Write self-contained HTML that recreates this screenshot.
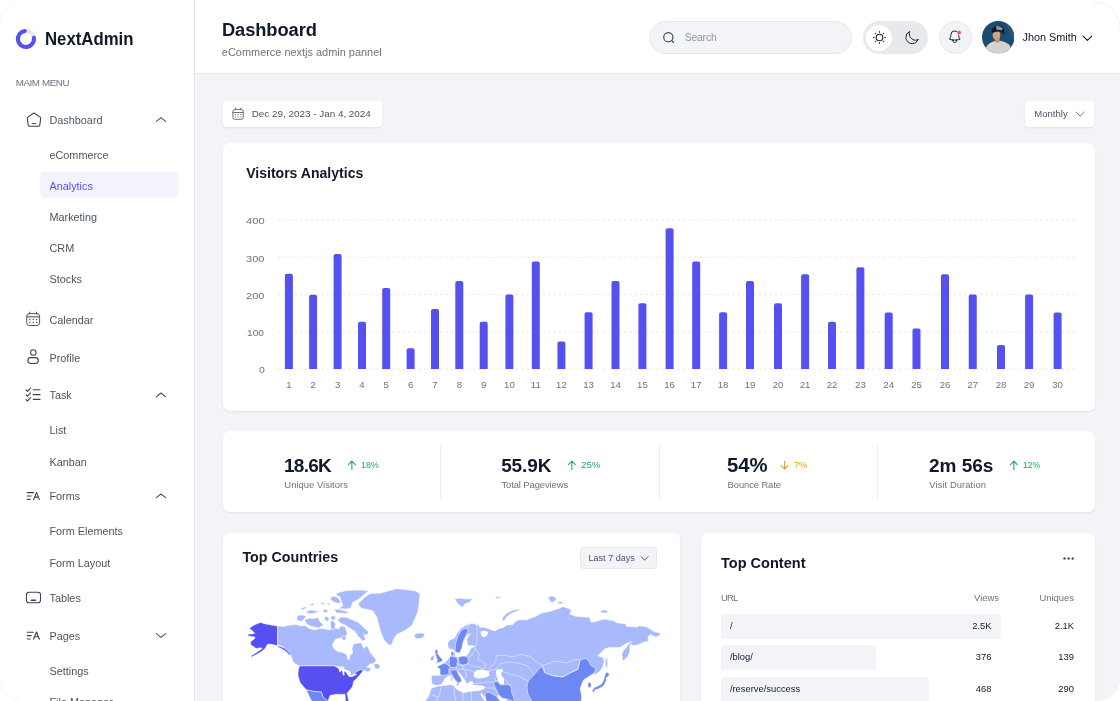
<!DOCTYPE html>
<html><head><meta charset="utf-8"><title>Analytics | NextAdmin</title>
<style>
html,body{margin:0;padding:0;}
body{width:1120px;height:701px;overflow:hidden;position:relative;background:#F3F4F8;font-family:"Liberation Sans",Arial,sans-serif;}
.t{position:absolute;white-space:nowrap;line-height:1;}
</style></head><body>
<div style="position:absolute;left:0px;top:0px;width:194px;height:701px;background:#fff;border-radius:0px;"></div>
<div style="position:absolute;left:194px;top:0px;width:1px;height:701px;background:#E5E7EB;border-radius:0px;"></div>
<div style="position:absolute;left:195px;top:0px;width:925px;height:73px;background:#fff;border-radius:0px;"></div>
<div style="position:absolute;left:195px;top:73px;width:925px;height:1px;background:#E7E8EC;border-radius:0px;"></div>
<svg style="position:absolute;left:0;top:0" width="60" height="60" viewBox="0 0 60 60">
<circle cx="25.95" cy="38.95" r="8.05" fill="none" stroke="#E5E7EB" stroke-width="4.1"/>
<path d="M 33.93 37.90 A 8.05 8.05 0 1 1 24.76 30.99" fill="none" stroke="#5750F1" stroke-width="4.1" stroke-linecap="round"/></svg>
<div class="t" style="left:45.47px;top:31.03px;font-size:17.8px;font-weight:700;color:#111928;transform:scaleX(0.9430);transform-origin:0 0;">NextAdmin</div>
<div class="t" style="left:15.71px;top:77.70px;font-size:9.8px;font-weight:400;color:#6B7280;letter-spacing:-0.420px;">MAIM MENU</div>
<div style="position:absolute;left:40px;top:172.4px;width:137.6px;height:26.1px;background:#F3F3FE;border-radius:4.5px;"></div>
<div class="t" style="left:49.47px;top:114.62px;font-size:10.85px;font-weight:400;color:#4B5563;">Dashboard</div>
<div class="t" style="left:49.47px;top:150.22px;font-size:10.85px;font-weight:400;color:#4B5563;">eCommerce</div>
<div class="t" style="left:49.47px;top:181.12px;font-size:10.85px;font-weight:400;color:#5750F1;">Analytics</div>
<div class="t" style="left:49.47px;top:212.32px;font-size:10.85px;font-weight:400;color:#4B5563;">Marketing</div>
<div class="t" style="left:49.47px;top:243.22px;font-size:10.85px;font-weight:400;color:#4B5563;">CRM</div>
<div class="t" style="left:49.47px;top:274.22px;font-size:10.85px;font-weight:400;color:#4B5563;">Stocks</div>
<div class="t" style="left:49.47px;top:314.52px;font-size:10.85px;font-weight:400;color:#4B5563;">Calendar</div>
<div class="t" style="left:49.47px;top:352.52px;font-size:10.85px;font-weight:400;color:#4B5563;">Profile</div>
<div class="t" style="left:49.47px;top:390.32px;font-size:10.85px;font-weight:400;color:#4B5563;">Task</div>
<div class="t" style="left:49.47px;top:425.02px;font-size:10.85px;font-weight:400;color:#4B5563;">List</div>
<div class="t" style="left:49.47px;top:456.72px;font-size:10.85px;font-weight:400;color:#4B5563;">Kanban</div>
<div class="t" style="left:49.47px;top:491.02px;font-size:10.85px;font-weight:400;color:#4B5563;">Forms</div>
<div class="t" style="left:49.47px;top:526.42px;font-size:10.85px;font-weight:400;color:#4B5563;">Form Elements</div>
<div class="t" style="left:49.47px;top:557.62px;font-size:10.85px;font-weight:400;color:#4B5563;">Form Layout</div>
<div class="t" style="left:49.47px;top:593.02px;font-size:10.85px;font-weight:400;color:#4B5563;">Tables</div>
<div class="t" style="left:49.47px;top:630.92px;font-size:10.85px;font-weight:400;color:#4B5563;">Pages</div>
<div class="t" style="left:49.47px;top:665.92px;font-size:10.85px;font-weight:400;color:#4B5563;">Settings</div>
<div class="t" style="left:49.47px;top:697.02px;font-size:10.85px;font-weight:400;color:#4B5563;">File Manager</div>
<svg style="position:absolute;left:25.8px;top:111.9px" width="16" height="16" viewBox="0 0 24 24" fill="none" stroke="#3A4250" stroke-width="1.6" stroke-linecap="round" stroke-linejoin="round"><path d="M10.6 2.2 L2.9 7.7 C2.2 8.2 1.9 9 2 9.8 L3.3 19.6 C3.5 20.6 4.3 21.3 5.3 21.3 L18.7 21.3 C19.7 21.3 20.5 20.6 20.7 19.6 L22 9.8 C22.1 9 21.8 8.2 21.1 7.7 L13.4 2.2 C12.6 1.6 11.4 1.6 10.6 2.2 Z"/><path d="M9.4 17.45 H14.6" stroke-width="1.45"/></svg>
<svg style="position:absolute;left:0;top:0;overflow:visible" width="1" height="1"><g fill="none" stroke="#4B5563" stroke-width="1"><rect x="26.7" y="313.6" width="12.9" height="11.9" rx="2.8"/><path d="M26.7 316.8 H39.6" stroke-width="1.1"/><path d="M29.7 312.1 V314 M36.6 312.1 V314" stroke-linecap="round"/></g><circle cx="29.8" cy="319.6" r="0.75" fill="#4B5563"/><circle cx="33.3" cy="319.6" r="0.75" fill="#4B5563"/><circle cx="36.6" cy="319.6" r="0.75" fill="#4B5563"/><circle cx="29.8" cy="322.5" r="0.75" fill="#4B5563"/><circle cx="33.3" cy="322.5" r="0.75" fill="#4B5563"/><circle cx="36.6" cy="322.5" r="0.75" fill="#4B5563"/></svg>
<svg style="position:absolute;left:0;top:0;overflow:visible" width="1" height="1"><g fill="none" stroke="#3A4250" stroke-width="1.05"><circle cx="33.3" cy="352.4" r="2.75"/><rect x="27.85" y="357.6" width="10.5" height="5.9" rx="2.95"/></g></svg>
<svg style="position:absolute;left:0;top:0;overflow:visible" width="1" height="1"><g fill="none" stroke="#3A4250" stroke-width="1.1" stroke-linecap="round" stroke-linejoin="round"><path d="M26.1 390.0 L27.5 391.4 L30.6 388.1 M26.1 394.8 L27.5 396.2 L30.6 392.9 M26.1 399.6 L27.5 401.0 L30.6 397.7 "/><path d="M33.3 389.8 H40 M33.3 394.6 H40 M33.3 399.4 H40"/></g></svg>
<svg style="position:absolute;left:0;top:0;overflow:visible" width="1" height="1"><g fill="none" stroke="#3A4250" stroke-width="1.1" stroke-linecap="round" stroke-linejoin="round"><path d="M27.3 492.6 H33.4 M27.3 496.0 H31.2 M27.3 499.4 H30.1"/><path d="M33.6 499.6 L36.5 492.4 L39.4 499.6 M34.7 497.1 H38.3"/></g></svg>
<svg style="position:absolute;left:0;top:0;overflow:visible" width="1" height="1"><g fill="none" stroke="#3A4250" stroke-width="1.1" stroke-linecap="round" stroke-linejoin="round"><path d="M27.3 632.2 H33.4 M27.3 635.6 H31.2 M27.3 639.0 H30.1"/><path d="M33.6 639.2 L36.5 632.0 L39.4 639.2 M34.7 636.7 H38.3"/></g></svg>
<svg style="position:absolute;left:0;top:0;overflow:visible" width="1" height="1"><g fill="none" stroke="#3A4250" stroke-width="1.05" stroke-linecap="round"><rect x="26.5" y="592.2" width="14" height="10.6" rx="2.6"/><path d="M31.3 600.2 H35.5" stroke-width="1.4"/></g></svg>
<svg style="position:absolute;left:0;top:0;overflow:visible" width="1" height="1"><path d="M156.35 121.35 L161.00 117.65 L165.65 121.35" fill="none" stroke="#4B5563" stroke-width="1.1" stroke-linecap="round" stroke-linejoin="round"/></svg>
<svg style="position:absolute;left:0;top:0;overflow:visible" width="1" height="1"><path d="M156.35 396.75 L161.00 393.05 L165.65 396.75" fill="none" stroke="#4B5563" stroke-width="1.1" stroke-linecap="round" stroke-linejoin="round"/></svg>
<svg style="position:absolute;left:0;top:0;overflow:visible" width="1" height="1"><path d="M156.35 497.65 L161.00 493.95 L165.65 497.65" fill="none" stroke="#4B5563" stroke-width="1.1" stroke-linecap="round" stroke-linejoin="round"/></svg>
<svg style="position:absolute;left:0;top:0;overflow:visible" width="1" height="1"><path d="M156.35 633.65 L161.00 637.35 L165.65 633.65" fill="none" stroke="#4B5563" stroke-width="1.1" stroke-linecap="round" stroke-linejoin="round"/></svg>
<div class="t" style="left:221.95px;top:20.71px;font-size:18.3px;font-weight:700;color:#111928;letter-spacing:-0.072px;">Dashboard</div>
<div class="t" style="left:221.87px;top:47.33px;font-size:10.95px;font-weight:400;color:#6B7280;letter-spacing:-0.002px;">eCommerce nextjs admin pannel</div>
<div style="position:absolute;left:649px;top:21px;width:203px;height:33px;background:#F3F4F8;border-radius:16.5px;box-sizing:border-box;border:1px solid #E5E7EB;"></div>
<svg style="position:absolute;left:0;top:0;overflow:visible" width="1" height="1"><circle cx="668.3" cy="37.2" r="4.6" fill="none" stroke="#374151" stroke-width="1.1"/><path d="M671.8 40.7 L673.6 42.5" stroke="#374151" stroke-width="1.1" stroke-linecap="round"/></svg>
<div class="t" style="left:684.69px;top:33.20px;font-size:10.4px;font-weight:400;color:#8F96A3;letter-spacing:-0.190px;">Search</div>
<div style="position:absolute;left:863px;top:21px;width:65px;height:33px;background:#E8E9ED;border-radius:16.5px;"></div>
<div style="position:absolute;left:866px;top:24.5px;width:26px;height:26px;background:#fff;border-radius:13px;"></div>
<svg style="position:absolute;left:870.7px;top:29.1px" width="17" height="17" viewBox="0 0 24 24" fill="none" stroke="#111928" stroke-width="1.45" stroke-linecap="round" stroke-linejoin="round"><path d="M12 3.5v1M18 6l-.7.7M20.5 12h-1M18 18l-.7-.7M12 20.5v-1M6 18l.7-.7M3.5 12h1M6 6l.7.7"/><circle cx="12" cy="12" r="4.7"/></svg>
<svg style="position:absolute;left:903.6px;top:30.1px" width="15.5" height="15.5" viewBox="0 0 24 24" fill="none" stroke="#111928" stroke-width="1.5" stroke-linecap="round" stroke-linejoin="round"><path d="M21.752 15.002A9.718 9.718 0 0118 15.75c-5.385 0-9.75-4.365-9.75-9.75 0-1.33.266-2.597.748-3.752A9.753 9.753 0 003 11.25C3 16.635 7.365 21 12.75 21a9.753 9.753 0 009.002-5.998z"/></svg>
<div style="position:absolute;left:938.5px;top:21px;width:33px;height:33px;background:#F3F4F8;border-radius:16.5px;box-sizing:border-box;border:1px solid #E5E7EB;"></div>
<svg style="position:absolute;left:947.05px;top:29.3px" width="15.5" height="15.5" viewBox="0 0 24 24" fill="none" stroke="#111928" stroke-width="1.5" stroke-linecap="round" stroke-linejoin="round"><path d="M14.857 17.082a23.848 23.848 0 005.454-1.31A8.967 8.967 0 0118 9.75v-.7V9A6 6 0 006 9v.75a8.967 8.967 0 01-2.312 6.022c1.733.64 3.56 1.085 5.455 1.31m5.714 0a24.255 24.255 0 01-5.714 0m5.714 0a3 3 0 11-5.714 0"/></svg>
<svg style="position:absolute;left:0;top:0;overflow:visible" width="1" height="1"><circle cx="959.1" cy="32.6" r="2.2" fill="#F05252" stroke="#F3F4F6" stroke-width="0.6"/></svg>
<svg style="position:absolute;left:981.8px;top:21.3px" width="32.4" height="32.4" viewBox="0 0 32 32"><defs><clipPath id="av"><circle cx="16" cy="16" r="16"/></clipPath></defs>
<g clip-path="url(#av)"><rect width="32" height="32" fill="#1B4B6F"/><path d="M22 0 L32 0 L32 24 Q27 14 22 0 Z" fill="#245A80" opacity="0.7"/>
<path d="M3 32 L4 26 Q6 22 11.5 20 Q15 19 18 19.5 Q24 20.5 27.5 24 L29.5 32 Z" fill="#D6D2CE"/>
<path d="M12.5 16.5 L12.8 20.6 Q15 21.8 17.6 20.6 L17.4 16 Z" fill="#C08A72"/>
<ellipse cx="14.3" cy="14" rx="3.8" ry="4.8" fill="#D3A18A"/>
<path d="M9.5 11.5 Q9.3 5.6 15 4.6 Q20.8 4.1 21.9 9.2 L22 14.2 Q20.6 12 19 10.6 Q15 9.8 11 11.6 Z" fill="#15181E"/>
<path d="M14 5 Q18.6 4.2 20.6 7.6 L19.6 9.3 Q16.5 8.3 14.2 8.7 Z" fill="#7E98B2"/>
</g></svg>
<div class="t" style="left:1022.57px;top:32.42px;font-size:10.85px;font-weight:500;color:#111928;letter-spacing:-0.008px;">Jhon Smith</div>
<svg style="position:absolute;left:0;top:0;overflow:visible" width="1" height="1"><path d="M1083.10 36.05 L1087.40 40.35 L1091.70 36.05" fill="none" stroke="#111928" stroke-width="1.1" stroke-linecap="round" stroke-linejoin="round"/></svg>
<div style="position:absolute;left:223px;top:101px;width:159px;height:26px;background:#fff;border-radius:3.5px;box-shadow:0px 1px 2px 0px rgba(84,87,118,0.12);"></div>
<svg style="position:absolute;left:0;top:0;overflow:visible" width="1" height="1"><g fill="none" stroke="#6B7280" stroke-width="1"><rect x="232.9" y="109.4" width="10.4" height="9.9" rx="2.2"/><path d="M232.9 112.5 H243.3 M235.4 108 V109.8 M240.8 108 V109.8" stroke-linecap="round"/></g><circle cx="235.4" cy="114.5" r="0.65" fill="#6B7280"/><circle cx="238.1" cy="114.5" r="0.65" fill="#6B7280"/><circle cx="241.0" cy="114.5" r="0.65" fill="#6B7280"/><circle cx="235.4" cy="116.8" r="0.65" fill="#6B7280"/><circle cx="238.1" cy="116.8" r="0.65" fill="#6B7280"/><circle cx="241.0" cy="116.8" r="0.65" fill="#6B7280"/></svg>
<div class="t" style="left:251.70px;top:109.14px;font-size:9.88px;font-weight:400;color:#4B5563;letter-spacing:0.001px;">Dec 29, 2023 - Jan 4, 2024</div>
<div style="position:absolute;left:1025px;top:101px;width:69px;height:26px;background:#fff;border-radius:3.5px;box-shadow:0px 1px 2px 0px rgba(84,87,118,0.12);"></div>
<div class="t" style="left:1034.31px;top:109.22px;font-size:9.54px;font-weight:400;color:#4B5563;letter-spacing:-0.000px;">Monthly</div>
<svg style="position:absolute;left:0;top:0;overflow:visible" width="1" height="1"><path d="M1076.10 112.20 L1080.10 116.20 L1084.10 112.20" fill="none" stroke="#6B7280" stroke-width="1" stroke-linecap="round" stroke-linejoin="round"/></svg>
<div style="position:absolute;left:223px;top:142.5px;width:872px;height:268.5px;background:#fff;border-radius:6.5px;box-shadow:0px 1px 2px 0px rgba(84,87,118,0.12);"></div>
<div class="t" style="left:246.18px;top:165.70px;font-size:14.06px;font-weight:700;color:#111928;letter-spacing:-0.001px;">Visitors Analytics</div>
<svg style="position:absolute;left:0;top:0" width="1120" height="701"><path d="M278 220.0 H1075.5" stroke="#E8EAEE" stroke-width="1" stroke-dasharray="3 2.4"/><path d="M278 257.3 H1075.5" stroke="#E8EAEE" stroke-width="1" stroke-dasharray="3 2.4"/><path d="M278 294.6 H1075.5" stroke="#E8EAEE" stroke-width="1" stroke-dasharray="3 2.4"/><path d="M278 331.9 H1075.5" stroke="#E8EAEE" stroke-width="1" stroke-dasharray="3 2.4"/><path d="M278 369.1 H1075.5" stroke="#E8EAEE" stroke-width="1" stroke-dasharray="3 2.4"/><path d="M284.90 369 V275.80 Q284.90 273.80 286.90 273.80 H290.90 Q292.90 273.80 292.90 275.80 V369 Z" fill="#5750F1"/><path d="M309.10 369 V296.80 Q309.10 294.80 311.10 294.80 H315.10 Q317.10 294.80 317.10 296.80 V369 Z" fill="#5750F1"/><path d="M333.60 369 V256.10 Q333.60 254.10 335.60 254.10 H339.60 Q341.60 254.10 341.60 256.10 V369 Z" fill="#5750F1"/><path d="M358.00 369 V323.80 Q358.00 321.80 360.00 321.80 H364.00 Q366.00 321.80 366.00 323.80 V369 Z" fill="#5750F1"/><path d="M382.20 369 V290.10 Q382.20 288.10 384.20 288.10 H388.20 Q390.20 288.10 390.20 290.10 V369 Z" fill="#5750F1"/><path d="M406.60 369 V350.20 Q406.60 348.20 408.60 348.20 H412.60 Q414.60 348.20 414.60 350.20 V369 Z" fill="#5750F1"/><path d="M431.00 369 V310.90 Q431.00 308.90 433.00 308.90 H437.00 Q439.00 308.90 439.00 310.90 V369 Z" fill="#5750F1"/><path d="M455.30 369 V283.00 Q455.30 281.00 457.30 281.00 H461.30 Q463.30 281.00 463.30 283.00 V369 Z" fill="#5750F1"/><path d="M479.70 369 V323.80 Q479.70 321.80 481.70 321.80 H485.70 Q487.70 321.80 487.70 323.80 V369 Z" fill="#5750F1"/><path d="M505.40 369 V296.60 Q505.40 294.60 507.40 294.60 H511.40 Q513.40 294.60 513.40 296.60 V369 Z" fill="#5750F1"/><path d="M531.80 369 V263.40 Q531.80 261.40 533.80 261.40 H537.80 Q539.80 261.40 539.80 263.40 V369 Z" fill="#5750F1"/><path d="M557.40 369 V343.40 Q557.40 341.40 559.40 341.40 H563.40 Q565.40 341.40 565.40 343.40 V369 Z" fill="#5750F1"/><path d="M584.60 369 V314.30 Q584.60 312.30 586.60 312.30 H590.60 Q592.60 312.30 592.60 314.30 V369 Z" fill="#5750F1"/><path d="M611.50 369 V283.00 Q611.50 281.00 613.50 281.00 H617.50 Q619.50 281.00 619.50 283.00 V369 Z" fill="#5750F1"/><path d="M638.40 369 V305.30 Q638.40 303.30 640.40 303.30 H644.40 Q646.40 303.30 646.40 305.30 V369 Z" fill="#5750F1"/><path d="M665.60 369 V230.20 Q665.60 228.20 667.60 228.20 H671.60 Q673.60 228.20 673.60 230.20 V369 Z" fill="#5750F1"/><path d="M692.20 369 V263.40 Q692.20 261.40 694.20 261.40 H698.20 Q700.20 261.40 700.20 263.40 V369 Z" fill="#5750F1"/><path d="M719.10 369 V314.30 Q719.10 312.30 721.10 312.30 H725.10 Q727.10 312.30 727.10 314.30 V369 Z" fill="#5750F1"/><path d="M746.00 369 V283.00 Q746.00 281.00 748.00 281.00 H752.00 Q754.00 281.00 754.00 283.00 V369 Z" fill="#5750F1"/><path d="M774.00 369 V305.30 Q774.00 303.30 776.00 303.30 H780.00 Q782.00 303.30 782.00 305.30 V369 Z" fill="#5750F1"/><path d="M801.10 369 V276.20 Q801.10 274.20 803.10 274.20 H807.10 Q809.10 274.20 809.10 276.20 V369 Z" fill="#5750F1"/><path d="M828.00 369 V323.80 Q828.00 321.80 830.00 321.80 H834.00 Q836.00 321.80 836.00 323.80 V369 Z" fill="#5750F1"/><path d="M856.40 369 V269.20 Q856.40 267.20 858.40 267.20 H862.40 Q864.40 267.20 864.40 269.20 V369 Z" fill="#5750F1"/><path d="M884.70 369 V314.40 Q884.70 312.40 886.70 312.40 H890.70 Q892.70 312.40 892.70 314.40 V369 Z" fill="#5750F1"/><path d="M912.50 369 V330.60 Q912.50 328.60 914.50 328.60 H918.50 Q920.50 328.60 920.50 330.60 V369 Z" fill="#5750F1"/><path d="M941.00 369 V276.30 Q941.00 274.30 943.00 274.30 H947.00 Q949.00 274.30 949.00 276.30 V369 Z" fill="#5750F1"/><path d="M968.75 369 V296.60 Q968.75 294.60 970.75 294.60 H974.75 Q976.75 294.60 976.75 296.60 V369 Z" fill="#5750F1"/><path d="M997.00 369 V346.90 Q997.00 344.90 999.00 344.90 H1003.00 Q1005.00 344.90 1005.00 346.90 V369 Z" fill="#5750F1"/><path d="M1025.10 369 V296.60 Q1025.10 294.60 1027.10 294.60 H1031.10 Q1033.10 294.60 1033.10 296.60 V369 Z" fill="#5750F1"/><path d="M1053.60 369 V314.40 Q1053.60 312.40 1055.60 312.40 H1059.60 Q1061.60 312.40 1061.60 314.40 V369 Z" fill="#5750F1"/></svg>
<div class="t" style="left:245.70px;top:216.29px;font-size:9.7px;font-weight:400;color:#6B7280;transform:scaleX(1.1494);transform-origin:0 0;">400</div>
<div class="t" style="left:245.90px;top:253.59px;font-size:9.7px;font-weight:400;color:#6B7280;transform:scaleX(1.1370);transform-origin:0 0;">300</div>
<div class="t" style="left:245.90px;top:290.89px;font-size:9.7px;font-weight:400;color:#6B7280;transform:scaleX(1.1370);transform-origin:0 0;">200</div>
<div class="t" style="left:247.30px;top:328.19px;font-size:9.7px;font-weight:400;color:#6B7280;transform:scaleX(1.0505);transform-origin:0 0;">100</div>
<div class="t" style="left:258.50px;top:365.39px;font-size:9.7px;font-weight:400;color:#6B7280;transform:scaleX(1.0752);transform-origin:0 0;">0</div>
<div class="t" style="left:286.23px;top:379.87px;font-size:9.6px;font-weight:400;color:#6B7280;">1</div>
<div class="t" style="left:310.43px;top:379.87px;font-size:9.6px;font-weight:400;color:#6B7280;">2</div>
<div class="t" style="left:334.93px;top:379.87px;font-size:9.6px;font-weight:400;color:#6B7280;">3</div>
<div class="t" style="left:359.33px;top:379.87px;font-size:9.6px;font-weight:400;color:#6B7280;">4</div>
<div class="t" style="left:383.53px;top:379.87px;font-size:9.6px;font-weight:400;color:#6B7280;">5</div>
<div class="t" style="left:407.93px;top:379.87px;font-size:9.6px;font-weight:400;color:#6B7280;">6</div>
<div class="t" style="left:432.33px;top:379.87px;font-size:9.6px;font-weight:400;color:#6B7280;">7</div>
<div class="t" style="left:456.63px;top:379.87px;font-size:9.6px;font-weight:400;color:#6B7280;">8</div>
<div class="t" style="left:481.03px;top:379.87px;font-size:9.6px;font-weight:400;color:#6B7280;">9</div>
<div class="t" style="left:504.06px;top:379.87px;font-size:9.6px;font-weight:400;color:#6B7280;">10</div>
<div class="t" style="left:530.82px;top:379.87px;font-size:9.6px;font-weight:400;color:#6B7280;">11</div>
<div class="t" style="left:556.06px;top:379.87px;font-size:9.6px;font-weight:400;color:#6B7280;">12</div>
<div class="t" style="left:583.26px;top:379.87px;font-size:9.6px;font-weight:400;color:#6B7280;">13</div>
<div class="t" style="left:610.16px;top:379.87px;font-size:9.6px;font-weight:400;color:#6B7280;">14</div>
<div class="t" style="left:637.06px;top:379.87px;font-size:9.6px;font-weight:400;color:#6B7280;">15</div>
<div class="t" style="left:664.26px;top:379.87px;font-size:9.6px;font-weight:400;color:#6B7280;">16</div>
<div class="t" style="left:690.86px;top:379.87px;font-size:9.6px;font-weight:400;color:#6B7280;">17</div>
<div class="t" style="left:717.76px;top:379.87px;font-size:9.6px;font-weight:400;color:#6B7280;">18</div>
<div class="t" style="left:744.66px;top:379.87px;font-size:9.6px;font-weight:400;color:#6B7280;">19</div>
<div class="t" style="left:772.66px;top:379.87px;font-size:9.6px;font-weight:400;color:#6B7280;">20</div>
<div class="t" style="left:799.76px;top:379.87px;font-size:9.6px;font-weight:400;color:#6B7280;">21</div>
<div class="t" style="left:826.66px;top:379.87px;font-size:9.6px;font-weight:400;color:#6B7280;">22</div>
<div class="t" style="left:855.06px;top:379.87px;font-size:9.6px;font-weight:400;color:#6B7280;">23</div>
<div class="t" style="left:883.36px;top:379.87px;font-size:9.6px;font-weight:400;color:#6B7280;">24</div>
<div class="t" style="left:911.16px;top:379.87px;font-size:9.6px;font-weight:400;color:#6B7280;">25</div>
<div class="t" style="left:939.66px;top:379.87px;font-size:9.6px;font-weight:400;color:#6B7280;">26</div>
<div class="t" style="left:967.41px;top:379.87px;font-size:9.6px;font-weight:400;color:#6B7280;">27</div>
<div class="t" style="left:995.66px;top:379.87px;font-size:9.6px;font-weight:400;color:#6B7280;">28</div>
<div class="t" style="left:1023.76px;top:379.87px;font-size:9.6px;font-weight:400;color:#6B7280;">29</div>
<div class="t" style="left:1052.26px;top:379.87px;font-size:9.6px;font-weight:400;color:#6B7280;">30</div>
<div style="position:absolute;left:223px;top:431px;width:872px;height:81px;background:#fff;border-radius:6.5px;box-shadow:0px 1px 2px 0px rgba(84,87,118,0.12);"></div>
<div style="position:absolute;left:440px;top:444.7px;width:1px;height:54.3px;background:#EBECEF;border-radius:0px;"></div>
<div style="position:absolute;left:658.5px;top:444.7px;width:1px;height:54.3px;background:#EBECEF;border-radius:0px;"></div>
<div style="position:absolute;left:877px;top:444.7px;width:1px;height:54.3px;background:#EBECEF;border-radius:0px;"></div>
<div class="t" style="left:284.03px;top:456.02px;font-size:19.0px;font-weight:700;color:#111928;letter-spacing:-0.724px;">18.6K</div>
<div class="t" style="left:360.81px;top:460.20px;font-size:9.8px;font-weight:500;color:#22AD5C;transform:scaleX(0.9075);transform-origin:0 0;">18%</div>
<svg style="position:absolute;left:0;top:0;overflow:visible" width="1" height="1"><path d="M351.85 469.4 V461.3 M348.40 464.7 L351.85 461.2 L355.30 464.7" fill="none" stroke="#22AD5C" stroke-width="1.1" stroke-linecap="round" stroke-linejoin="round"/></svg>
<div class="t" style="left:284.32px;top:479.64px;font-size:9.4px;font-weight:400;color:#6B7280;letter-spacing:0.047px;">Unique Visitors</div>
<div class="t" style="left:501.13px;top:456.02px;font-size:19.0px;font-weight:700;color:#111928;letter-spacing:-0.099px;">55.9K</div>
<div class="t" style="left:580.51px;top:460.20px;font-size:9.8px;font-weight:500;color:#22AD5C;transform:scaleX(0.9942);transform-origin:0 0;">25%</div>
<svg style="position:absolute;left:0;top:0;overflow:visible" width="1" height="1"><path d="M571.85 469.4 V461.3 M568.40 464.7 L571.85 461.2 L575.30 464.7" fill="none" stroke="#22AD5C" stroke-width="1.1" stroke-linecap="round" stroke-linejoin="round"/></svg>
<div class="t" style="left:501.42px;top:479.64px;font-size:9.4px;font-weight:400;color:#6B7280;letter-spacing:-0.073px;">Total Pageviews</div>
<div class="t" style="left:727.32px;top:455.68px;font-size:19.4px;font-weight:700;color:#111928;transform:scaleX(1.0482);transform-origin:0 0;">54%</div>
<div class="t" style="left:793.61px;top:460.20px;font-size:9.8px;font-weight:500;color:#F59E0B;transform:scaleX(0.9319);transform-origin:0 0;">7%</div>
<svg style="position:absolute;left:0;top:0;overflow:visible" width="1" height="1"><path d="M784.55 461.0 V469.1 M781.20 465.7 L784.55 469.2 L787.90 465.7" fill="none" stroke="#F59E0B" stroke-width="1.1" stroke-linecap="round" stroke-linejoin="round"/></svg>
<div class="t" style="left:727.62px;top:479.64px;font-size:9.4px;font-weight:400;color:#6B7280;letter-spacing:-0.085px;">Bounce Rate</div>
<div class="t" style="left:929.03px;top:456.02px;font-size:19.0px;font-weight:700;color:#111928;letter-spacing:-0.027px;">2m 56s</div>
<div class="t" style="left:1023.31px;top:460.20px;font-size:9.8px;font-weight:500;color:#22AD5C;transform:scaleX(0.8769);transform-origin:0 0;">12%</div>
<svg style="position:absolute;left:0;top:0;overflow:visible" width="1" height="1"><path d="M1013.85 469.4 V461.3 M1010.40 464.7 L1013.85 461.2 L1017.30 464.7" fill="none" stroke="#22AD5C" stroke-width="1.1" stroke-linecap="round" stroke-linejoin="round"/></svg>
<div class="t" style="left:929.32px;top:479.64px;font-size:9.4px;font-weight:400;color:#6B7280;letter-spacing:0.083px;">Visit Duration</div>
<div style="position:absolute;left:223px;top:533px;width:457px;height:200px;background:#fff;border-radius:6.5px;box-shadow:0px 1px 2px 0px rgba(84,87,118,0.12);"></div>
<div class="t" style="left:242.47px;top:550.31px;font-size:14.28px;font-weight:700;color:#111928;letter-spacing:-0.001px;">Top Countries</div>
<div style="position:absolute;left:580px;top:547.3px;width:77px;height:21.5px;background:#F3F4F8;border-radius:3.5px;box-sizing:border-box;border:1px solid #E5E7EB;"></div>
<div class="t" style="left:588.48px;top:553.92px;font-size:9.07px;font-weight:400;color:#4B5563;letter-spacing:0.002px;">Last 7 days</div>
<svg style="position:absolute;left:0;top:0;overflow:visible" width="1" height="1"><path d="M641.20 556.70 L644.60 560.30 L648.00 556.70" fill="none" stroke="#4B5563" stroke-width="1" stroke-linecap="round" stroke-linejoin="round"/></svg>
<svg style="position:absolute;left:0;top:0" width="1120" height="701"><path d="M260.4 622.5 L265.4 623.9 L271.1 625.0 L277.6 626.1 L277.6 645.7 L271.1 644.2 L267.5 644.2 L265.2 648.6 L261.6 651.6 L256.4 654.6 L251.3 657.0 L250.6 656.0 L255.6 653.0 L260.2 650.0 L262.2 648.4 L260.4 647.8 L256.1 648.5 L254.0 647.1 L250.4 644.2 L250.8 641.4 L254.0 639.3 L255.1 637.1 L251.1 636.4 L247.9 635.7 L248.3 633.9 L252.6 633.9 L254.7 633.2 L251.8 630.3 L249.3 628.2 L254.0 625.0 Z" fill="#5750F1" stroke="#fff" stroke-width="0.5" stroke-linejoin="round"/><path d="M277.8 625.9 L284.0 626.5 L290.0 625.0 L296.0 624.4 L300.0 626.0 L305.0 625.4 L309.0 628.4 L315.0 630.0 L320.0 628.4 L325.0 629.0 L330.0 630.0 L332.0 627.0 L335.0 628.0 L338.5 629.0 L341.5 625.6 L345.0 627.0 L347.3 633.3 L349.0 633.0 L352.0 632.0 L356.0 634.0 L360.0 638.0 L363.0 642.0 L365.5 644.5 L368.0 647.5 L370.5 652.7 L374.4 657.5 L376.4 660.4 L373.5 663.4 L369.6 664.3 L366.5 667.0 L369.0 667.5 L371.5 669.5 L368.0 672.0 L364.5 670.5 L362.7 671.3 L361.1 669.1 L357.0 671.5 L353.0 674.5 L351.5 676.5 L349.5 674.0 L346.5 670.5 L342.0 668.0 L338.0 666.6 L334.3 665.9 L299.5 665.9 L296.5 664.5 L294.0 663.0 L292.0 658.5 L290.4 654.6 L284.0 647.2 L277.8 644.8 Z" fill="#A8B9FC" stroke="#fff" stroke-width="0.5" stroke-linejoin="round"/><path d="M277.6 645.7 L284.0 647.8 L287.5 650.7 L290.7 654.6 L289.6 655.2 L286.1 651.6 L281.8 648.7 L277.6 646.9 Z" fill="#5750F1" stroke="#fff" stroke-width="0.5" stroke-linejoin="round"/><path d="M332.3 645.9 L332.8 643.0 L335.7 639.1 L341.5 637.2 L346.3 635.3 L347.5 632.0 L349.0 629.0 L352.0 628.5 L356.0 631.0 L359.0 635.0 L363.0 638.0 L367.0 641.0 L369.0 643.5 L366.7 645.9 L363.8 648.8 L360.9 643.0 L357.0 643.5 L354.1 644.0 L352.1 648.8 L353.1 652.7 L350.2 655.6 L349.2 660.4 L347.3 658.5 L346.3 654.6 L342.4 652.7 L337.6 651.7 L334.7 649.8 Z" fill="#fff"/><path d="M341.5 637.0 L344.0 635.3 L346.3 636.5 L345.5 640.1 L342.5 640.0 Z" fill="#A8B9FC" stroke="#fff" stroke-width="0.5" stroke-linejoin="round"/><path d="M373.5 664.5 L377.0 663.4 L380.2 665.5 L379.0 669.2 L375.0 668.5 Z" fill="#A8B9FC" stroke="#fff" stroke-width="0.5" stroke-linejoin="round"/><path d="M297.9 615.4 L302.0 615.0 L306.4 616.4 L304.0 619.0 L301.4 621.4 L296.4 620.0 Z" fill="#A8B9FC" stroke="#fff" stroke-width="0.5" stroke-linejoin="round"/><path d="M304.3 620.0 L308.6 618.2 L313.6 618.6 L317.9 617.5 L320.0 621.4 L323.6 625.0 L318.6 627.9 L311.4 626.4 L307.1 624.3 Z" fill="#A8B9FC" stroke="#fff" stroke-width="0.5" stroke-linejoin="round"/><path d="M305.7 611.4 L311.4 610.0 L318.6 611.4 L317.1 612.5 L310.7 613.9 L306.4 612.5 Z" fill="#A8B9FC" stroke="#fff" stroke-width="0.5" stroke-linejoin="round"/><path d="M300.4 609.6 L303.0 607.5 L306.4 606.4 L306.1 607.9 L302.5 610.0 Z" fill="#A8B9FC" stroke="#fff" stroke-width="0.5" stroke-linejoin="round"/><path d="M322.9 609.8 L326.0 609.3 L327.9 611.0 L326.5 612.9 L323.5 612.3 Z" fill="#A8B9FC" stroke="#fff" stroke-width="0.5" stroke-linejoin="round"/><path d="M320.0 602.2 L323.0 602.5 L325.7 604.4 L323.0 604.6 Z" fill="#A8B9FC" stroke="#fff" stroke-width="0.5" stroke-linejoin="round"/><path d="M327.1 603.2 L329.0 602.9 L330.0 605.0 L328.0 605.0 Z" fill="#A8B9FC" stroke="#fff" stroke-width="0.5" stroke-linejoin="round"/><path d="M310.7 603.5 L313.6 603.0 L313.0 606.0 L311.0 605.5 Z" fill="#A8B9FC" stroke="#fff" stroke-width="0.5" stroke-linejoin="round"/><path d="M324.3 617.0 L327.0 616.4 L329.3 618.5 L328.0 621.4 L325.0 620.5 Z" fill="#A8B9FC" stroke="#fff" stroke-width="0.5" stroke-linejoin="round"/><path d="M330.7 616.5 L333.5 615.7 L335.7 617.5 L334.5 620.0 L331.5 620.0 Z" fill="#A8B9FC" stroke="#fff" stroke-width="0.5" stroke-linejoin="round"/><path d="M330.5 621.0 L333.0 620.7 L335.7 624.0 L334.5 629.0 L331.5 630.0 L330.5 626.0 Z" fill="#A8B9FC" stroke="#fff" stroke-width="0.5" stroke-linejoin="round"/><path d="M335.7 593.9 L340.0 592.1 L347.1 590.4 L361.4 590.0 L368.6 591.1 L364.3 594.3 L358.6 599.3 L352.9 602.1 L350.7 607.9 L345.7 608.9 L338.6 608.6 L342.9 605.7 L341.4 601.4 L340.0 597.1 L336.4 595.0 Z" fill="#A8B9FC" stroke="#fff" stroke-width="0.5" stroke-linejoin="round"/><path d="M330.0 598.6 L332.9 596.1 L337.1 597.1 L340.7 601.4 L338.6 603.6 L333.6 602.1 Z" fill="#A8B9FC" stroke="#fff" stroke-width="0.5" stroke-linejoin="round"/><path d="M334.3 609.3 L340.0 609.6 L348.6 612.1 L347.1 613.6 L336.4 612.9 Z" fill="#A8B9FC" stroke="#fff" stroke-width="0.5" stroke-linejoin="round"/><path d="M337.9 619.3 L341.4 617.1 L347.1 617.5 L350.7 619.3 L357.9 622.1 L362.9 626.4 L367.1 630.7 L368.6 632.3 L366.7 635.3 L363.8 634.3 L365.7 640.1 L362.8 641.1 L358.0 636.2 L355.0 631.4 L350.2 628.5 L346.3 625.6 L341.5 623.6 L338.6 621.7 Z" fill="#A8B9FC" stroke="#fff" stroke-width="0.5" stroke-linejoin="round"/><path d="M396.7 588.8 L405.0 589.5 L415.5 591.0 L420.0 593.6 L419.5 600.0 L418.1 610.7 L414.7 619.2 L412.1 625.2 L405.3 630.3 L396.7 634.6 L393.3 639.7 L391.6 645.0 L389.0 645.0 L383.9 639.7 L380.5 631.2 L378.8 625.2 L377.0 617.5 L372.8 610.7 L360.8 608.1 L358.2 603.8 L364.2 597.8 L370.2 593.6 L381.3 593.1 L388.2 591.0 Z" fill="#A8B9FC" stroke="#fff" stroke-width="0.5" stroke-linejoin="round"/><path d="M414.1 634.5 L418.0 633.0 L423.0 633.2 L424.9 635.0 L422.5 638.0 L417.0 638.8 L414.5 637.0 Z" fill="#A8B9FC" stroke="#fff" stroke-width="0.5" stroke-linejoin="round"/><path d="M299.5 665.9 L334.3 665.9 L338.0 667.5 L340.0 672.0 L342.0 670.0 L346.0 672.0 L349.0 676.5 L351.5 676.5 L356.0 672.0 L361.1 669.1 L362.7 671.3 L358.9 676.1 L353.6 681.4 L352.5 686.8 L347.1 693.2 L348.8 701.5 L345.5 701.5 L345.0 694.3 L336.4 694.3 L330.0 695.4 L327.9 701.5 L323.0 697.0 L321.4 692.1 L315.0 691.6 L306.4 690.0 L300.0 682.5 L297.9 675.0 L298.5 669.0 Z" fill="#5750F1" stroke="#fff" stroke-width="0.5" stroke-linejoin="round"/><path d="M306.4 690.0 L315.0 691.6 L321.4 692.1 L323.0 697.0 L327.9 701.5 L312.0 701.5 L309.0 696.0 Z" fill="#6D88F3" stroke="#fff" stroke-width="0.5" stroke-linejoin="round"/><path d="M336.0 667.0 L343.0 666.6 L345.0 668.0 L340.0 669.0 Z" fill="#fff"/><path d="M342.0 669.5 L344.0 669.0 L344.5 675.0 L343.0 675.5 Z" fill="#fff"/><path d="M345.5 670.0 L349.0 670.5 L351.0 674.0 L348.0 675.0 Z" fill="#fff"/><path d="M350.0 676.0 L356.0 673.5 L357.0 674.5 L352.0 677.0 Z" fill="#fff"/><path d="M448.3 648.1 L447.7 643.2 L449.5 640.2 L454.4 638.3 L456.9 633.4 L460.6 628.5 L465.5 625.4 L470.4 623.6 L475.3 623.8 L478.0 625.0 L480.2 627.5 L483.0 627.0 L486.0 628.0 L491.1 629.7 L495.0 631.0 L500.0 628.0 L502.7 628.0 L507.0 625.0 L512.6 624.7 L516.0 621.0 L519.3 619.8 L520.0 619.8 L526.6 619.8 L535.7 616.5 L541.5 613.1 L549.8 611.5 L559.7 608.2 L563.0 606.5 L571.3 609.8 L569.7 614.0 L576.3 616.5 L589.5 617.3 L591.2 622.3 L596.0 621.5 L603.8 619.2 L613.5 620.6 L617.2 622.9 L625.6 623.8 L626.5 626.6 L637.6 627.0 L639.5 625.7 L646.9 627.0 L654.3 631.7 L659.9 633.1 L660.8 634.5 L658.0 635.9 L656.2 637.2 L652.0 635.5 L650.6 634.5 L647.8 637.2 L648.8 641.0 L643.2 642.3 L638.6 644.7 L632.1 645.6 L630.2 641.9 L625.6 643.7 L620.0 647.4 L608.9 647.4 L604.3 649.3 L597.8 655.8 L603.3 657.6 L604.3 661.3 L602.4 667.8 L598.7 672.5 L595.0 674.3 L593.0 673.9 L588.7 676.5 L583.5 680.0 L581.7 684.3 L580.0 688.7 L580.9 692.2 L581.7 696.5 L581.0 701.5 L425.0 701.5 L428.7 696.0 L430.7 690.0 L432.0 687.6 L435.0 687.2 L436.2 686.3 L435.0 685.0 L431.8 683.9 L431.3 675.4 L435.0 675.3 L440.5 675.5 L440.0 673.0 L440.2 669.5 L438.0 667.5 L437.0 666.5 L439.5 665.5 L444.0 663.2 L446.5 661.0 L448.0 659.0 L449.5 657.0 L451.0 655.5 L451.0 652.0 L453.0 651.5 L455.1 652.5 L455.1 656.7 L458.7 657.3 L462.0 656.5 L465.5 656.1 L467.5 655.0 L469.5 651.5 L470.4 648.5 L475.3 646.5 L471.5 645.5 L468.0 645.7 L466.7 639.5 L468.0 637.0 L470.4 633.4 L468.5 634.0 L466.0 636.5 L464.5 640.0 L463.0 644.0 L462.0 648.0 L461.2 651.0 L460.0 653.5 L458.5 653.5 L456.5 652.5 L455.1 651.0 L452.5 649.5 L450.0 649.0 Z" fill="#A8B9FC" stroke="#fff" stroke-width="0.5" stroke-linejoin="round"/><path d="M631.1 641.4 L632.5 643.0 L629.8 645.6 L630.0 651.0 L627.8 656.5 L622.8 661.3 L621.9 653.9 L623.7 650.2 L628.4 644.7 Z" fill="#A8B9FC" stroke="#fff" stroke-width="0.5" stroke-linejoin="round"/><path d="M435.0 685.2 L440.5 684.6 L443.0 682.0 L444.5 678.5 L447.9 676.2 L451.1 674.8 L452.2 676.4 L455.4 680.7 L458.6 683.4 L461.3 681.8 L459.7 676.4 L456.4 671.1 L457.5 670.5 L460.7 674.3 L465.0 679.7 L467.2 683.9 L469.3 681.8 L472.5 680.7 L473.6 685.0 L480.0 685.5 L484.3 686.1 L484.3 689.3 L480.0 690.4 L471.4 691.4 L462.9 693.0 L456.4 689.3 L454.3 686.1 L451.1 685.0 L441.4 686.1 L436.2 686.6 Z" fill="#fff"/><path d="M473.6 673.2 L476.8 670.0 L482.2 669.5 L488.6 671.1 L489.7 675.4 L484.3 678.0 L477.9 678.6 L474.1 677.0 Z" fill="#fff"/><path d="M496.8 669.6 L502.5 669.1 L502.7 671.7 L500.9 673.2 L502.0 676.3 L504.0 678.4 L504.0 684.5 L500.4 684.5 L498.4 682.0 L497.8 678.4 L496.0 674.8 L496.0 671.2 Z" fill="#fff"/><path d="M481.0 692.5 L484.0 696.0 L487.5 701.5 L485.0 701.5 L480.5 695.0 Z" fill="#fff"/><path d="M497.3 694.8 L499.5 695.5 L502.0 697.9 L506.6 698.9 L507.0 701.5 L500.0 701.5 L498.0 698.0 Z" fill="#fff"/><path d="M480.5 631.5 L484.0 630.5 L488.5 632.0 L487.0 635.5 L484.0 637.5 L481.5 636.0 Z" fill="#fff"/><path d="M455.1 651.8 L455.7 643.2 L458.1 635.9 L461.8 629.7 L466.7 627.9 L467.9 631.0 L465.5 635.9 L463.0 642.0 L461.8 648.1 L459.4 653.0 Z" fill="#6D88F3" stroke="#fff" stroke-width="0.5" stroke-linejoin="round"/><path d="M435.5 649.2 L437.2 649.7 L438.0 651.5 L437.5 653.5 L438.7 655.0 L440.2 657.0 L441.7 658.7 L442.7 660.0 L442.2 661.5 L439.5 662.2 L435.5 663.5 L436.7 662.0 L437.5 660.0 L436.5 658.2 L436.2 656.2 L435.5 654.5 L435.0 652.0 Z" fill="#6D88F3" stroke="#fff" stroke-width="0.5" stroke-linejoin="round"/><path d="M437.0 666.5 L439.5 665.5 L444.0 663.2 L446.5 664.0 L449.0 666.0 L450.0 667.5 L448.5 670.0 L449.0 673.0 L448.5 674.5 L445.0 675.0 L440.5 675.5 L440.0 673.0 L440.2 669.5 L438.0 667.5 Z" fill="#6D88F3" stroke="#fff" stroke-width="0.5" stroke-linejoin="round"/><path d="M449.5 657.0 L452.0 656.2 L455.0 657.0 L457.0 658.0 L457.5 661.5 L456.7 664.0 L457.5 666.0 L455.0 667.5 L451.5 667.5 L449.5 666.5 L449.2 663.5 L449.5 660.0 Z" fill="#6D88F3" stroke="#fff" stroke-width="0.5" stroke-linejoin="round"/><path d="M458.6 657.1 L463.9 656.1 L467.7 657.1 L468.2 661.4 L467.2 664.6 L462.9 665.2 L459.1 663.6 Z" fill="#6D88F3" stroke="#fff" stroke-width="0.5" stroke-linejoin="round"/><path d="M450.5 670.5 L453.0 670.0 L456.4 669.8 L457.0 671.1 L459.1 675.4 L461.3 679.1 L461.8 681.8 L459.7 681.8 L458.6 683.9 L457.0 681.8 L454.3 678.6 L452.2 675.4 L450.5 672.1 Z" fill="#6D88F3" stroke="#fff" stroke-width="0.5" stroke-linejoin="round"/><path d="M493.2 682.0 L497.8 681.4 L500.4 684.8 L504.0 684.8 L508.1 684.5 L511.2 686.6 L511.7 692.7 L513.8 697.9 L514.5 701.5 L510.7 700.4 L506.6 698.9 L502.0 697.9 L498.9 694.8 L497.3 691.7 L495.3 687.6 Z" fill="#6D88F3" stroke="#fff" stroke-width="0.5" stroke-linejoin="round"/><path d="M485.0 693.8 L488.1 692.2 L492.2 693.8 L496.8 696.8 L499.4 700.4 L499.6 701.5 L486.5 701.5 L485.5 698.0 Z" fill="#6D88F3" stroke="#fff" stroke-width="0.5" stroke-linejoin="round"/><path d="M528.3 681.0 L534.0 675.0 L541.5 666.1 L544.8 672.7 L554.0 676.0 L563.0 676.9 L570.0 673.0 L577.9 669.4 L580.0 660.0 L585.2 658.3 L588.7 660.9 L591.3 666.1 L595.7 667.8 L595.2 671.3 L593.0 673.9 L588.7 676.5 L583.5 680.0 L581.7 684.3 L580.0 688.7 L580.9 692.2 L581.7 696.5 L581.0 701.5 L532.0 701.5 L528.0 694.0 L527.0 687.0 Z" fill="#6D88F3" stroke="#fff" stroke-width="0.5" stroke-linejoin="round"/><path d="M587.8 682.8 L590.5 682.6 L591.3 685.0 L590.5 687.8 L588.3 687.6 Z" fill="#6D88F3" stroke="#fff" stroke-width="0.5" stroke-linejoin="round"/><path d="M605.5 673.0 L607.5 672.2 L609.6 674.5 L608.0 676.5 L606.5 677.5 L606.0 681.0 L604.5 684.5 L602.0 687.0 L598.5 688.8 L595.0 690.0 L593.5 692.5 L592.0 691.0 L594.5 687.5 L598.0 686.0 L601.5 684.0 L603.5 680.5 L604.5 677.0 Z" fill="#6D88F3" stroke="#fff" stroke-width="0.5" stroke-linejoin="round"/><path d="M495.0 678.1 L497.8 678.3 L497.5 680.7 L495.3 680.6 Z" fill="#74C0CB" stroke="#fff" stroke-width="0.5" stroke-linejoin="round"/><path d="M431.0 657.0 L433.0 655.5 L434.0 656.5 L433.8 659.5 L431.5 661.0 L430.5 659.5 Z" fill="#9AAEF9" stroke="#fff" stroke-width="0.5" stroke-linejoin="round"/><path d="M451.0 652.0 L453.0 651.5 L453.6 654.0 L452.8 656.0 L451.2 655.5 Z" fill="#6D88F3" stroke="#fff" stroke-width="0.5" stroke-linejoin="round"/><path d="M455.4 684.0 L459.7 683.6 L458.0 685.5 Z" fill="#6D88F3" stroke="#fff" stroke-width="0.5" stroke-linejoin="round"/><path d="M451.1 675.6 L452.7 675.6 L452.7 681.3 L451.1 681.3 Z" fill="#A8B9FC" stroke="#fff" stroke-width="0.5" stroke-linejoin="round"/><path d="M454.7 599.0 L460.0 598.2 L466.0 599.0 L472.9 598.8 L470.0 602.0 L465.0 604.0 L462.0 607.3 L458.0 604.0 L456.0 601.0 Z" fill="#A8B9FC" stroke="#fff" stroke-width="0.5" stroke-linejoin="round"/><path d="M495.3 596.6 L500.2 596.8 L499.5 598.2 L496.0 598.2 Z" fill="#A8B9FC" stroke="#fff" stroke-width="0.5" stroke-linejoin="round"/><path d="M501.9 620.6 L503.0 617.0 L507.0 613.0 L512.0 610.5 L520.1 609.0 L519.0 610.5 L512.0 613.0 L507.0 616.5 L504.0 621.0 Z" fill="#A8B9FC" stroke="#fff" stroke-width="0.5" stroke-linejoin="round"/><path d="M548.5 597.0 L552.0 595.8 L556.4 598.0 L555.0 601.0 L552.0 602.4 L549.0 600.0 Z" fill="#A8B9FC" stroke="#fff" stroke-width="0.5" stroke-linejoin="round"/><path d="M557.0 602.0 L563.0 601.5 L562.0 604.0 L558.0 603.5 Z" fill="#A8B9FC" stroke="#fff" stroke-width="0.5" stroke-linejoin="round"/><path d="M600.3 611.0 L604.0 609.8 L608.6 611.0 L606.0 613.1 L601.0 612.5 Z" fill="#A8B9FC" stroke="#fff" stroke-width="0.5" stroke-linejoin="round"/><path d="M605.2 658.3 L607.0 658.0 L607.8 663.0 L607.0 668.7 L605.5 666.0 L605.5 661.0 Z" fill="#A8B9FC" stroke="#fff" stroke-width="0.5" stroke-linejoin="round"/><path d="M496.0 656.0 L505.0 655.0 L512.0 657.0 L520.0 654.5 L529.9 656.2 L536.6 662.0 L543.2 665.3 L554.8 661.2 L566.4 662.8 L576.3 659.5 L580.0 660.0" fill="none" stroke="#fff" stroke-width="0.55" stroke-opacity="0.85"/><path d="M543.2 665.3 L544.8 672.7 L554.0 676.0 L563.0 676.9 L570.0 673.0 L577.9 669.4 L580.0 660.0" fill="none" stroke="#fff" stroke-width="0.55" stroke-opacity="0.85"/><path d="M466.7 627.9 L470.4 623.6" fill="none" stroke="#fff" stroke-width="0.55" stroke-opacity="0.85"/><path d="M475.3 623.8 L477.1 627.3 L477.1 639.5 L475.3 646.5" fill="none" stroke="#fff" stroke-width="0.55" stroke-opacity="0.85"/><path d="M467.9 658.0 L472.0 655.0 L475.3 648.1 L479.0 654.3 L477.8 659.2 L486.3 664.1 L483.9 669.0" fill="none" stroke="#fff" stroke-width="0.55" stroke-opacity="0.85"/><path d="M467.3 663.5 L472.0 666.0 L478.0 667.0 L483.9 669.0" fill="none" stroke="#fff" stroke-width="0.55" stroke-opacity="0.85"/><path d="M457.5 664.1 L462.0 666.0 L467.3 663.5" fill="none" stroke="#fff" stroke-width="0.55" stroke-opacity="0.85"/><path d="M455.7 666.5 L458.0 670.0 L462.0 669.0 L468.0 670.0 L474.1 671.5" fill="none" stroke="#fff" stroke-width="0.55" stroke-opacity="0.85"/><path d="M488.8 671.5 L492.0 670.0 L496.0 669.6" fill="none" stroke="#fff" stroke-width="0.55" stroke-opacity="0.85"/><path d="M488.8 671.5 L490.0 667.0 L494.0 664.0 L496.0 660.0 L496.0 656.0" fill="none" stroke="#fff" stroke-width="0.55" stroke-opacity="0.85"/><path d="M502.7 671.7 L510.0 674.0 L518.0 676.0 L528.3 681.0" fill="none" stroke="#fff" stroke-width="0.55" stroke-opacity="0.85"/><path d="M504.0 678.4 L511.2 686.6" fill="none" stroke="#fff" stroke-width="0.55" stroke-opacity="0.85"/><path d="M496.0 669.6 L500.0 664.0 L508.0 662.0 L518.0 663.0 L528.0 666.0 L534.0 675.0" fill="none" stroke="#fff" stroke-width="0.55" stroke-opacity="0.85"/><path d="M472.9 683.5 L480.0 683.0 L487.0 682.0 L493.2 682.0" fill="none" stroke="#fff" stroke-width="0.55" stroke-opacity="0.85"/><path d="M482.7 686.2 L487.0 688.0 L493.0 688.0 L497.3 691.7" fill="none" stroke="#fff" stroke-width="0.55" stroke-opacity="0.85"/><path d="M432.0 695.0 L438.0 697.0" fill="none" stroke="#fff" stroke-width="0.55" stroke-opacity="0.85"/><path d="M462.9 693.0 L463.0 701.5" fill="none" stroke="#fff" stroke-width="0.55" stroke-opacity="0.85"/><path d="M441.4 686.1 L440.0 693.0 L436.0 701.5" fill="none" stroke="#fff" stroke-width="0.55" stroke-opacity="0.85"/><path d="M454.3 686.1 L454.0 692.0 L456.0 701.5" fill="none" stroke="#fff" stroke-width="0.55" stroke-opacity="0.85"/><path d="M471.4 691.4 L471.4 701.5" fill="none" stroke="#fff" stroke-width="0.55" stroke-opacity="0.85"/><path d="M461.8 664.1 L463.0 668.0 L466.0 672.0 L466.0 678.0" fill="none" stroke="#fff" stroke-width="0.55" stroke-opacity="0.85"/></svg>
<div style="position:absolute;left:701px;top:533px;width:394px;height:200px;background:#fff;border-radius:6.5px;box-shadow:0px 1px 2px 0px rgba(84,87,118,0.12);"></div>
<div class="t" style="left:720.96px;top:555.88px;font-size:14.55px;font-weight:700;color:#111928;letter-spacing:0.003px;">Top Content</div>
<svg style="position:absolute;left:0;top:0;overflow:visible" width="1" height="1"><circle cx="1064.5" cy="558.4" r="1.25" fill="#4B5563"/><circle cx="1068.6" cy="558.4" r="1.25" fill="#4B5563"/><circle cx="1072.7" cy="558.4" r="1.25" fill="#4B5563"/></svg>
<div class="t" style="left:721.12px;top:592.64px;font-size:9.4px;font-weight:400;color:#6B7280;letter-spacing:-0.852px;">URL</div>
<div class="t" style="left:974.10px;top:592.94px;font-size:9.4px;font-weight:400;color:#6B7280;letter-spacing:-0.001px;">Views</div>
<div class="t" style="left:1039.60px;top:592.94px;font-size:9.4px;font-weight:400;color:#6B7280;letter-spacing:-0.014px;">Uniques</div>
<div style="position:absolute;left:720.9px;top:614.1px;width:279.70000000000005px;height:25px;background:#F3F4F8;border-radius:3.5px;"></div>
<div class="t" style="left:729.92px;top:622.07px;font-size:9.37px;font-weight:500;color:#111928;">/</div>
<div class="t" style="left:972.13px;top:622.07px;font-size:9.37px;font-weight:500;color:#111928;">2.5K</div>
<div class="t" style="left:1054.73px;top:622.07px;font-size:9.37px;font-weight:500;color:#111928;">2.1K</div>
<div style="position:absolute;left:720.9px;top:645.3px;width:155.60000000000002px;height:25px;background:#F3F4F8;border-radius:3.5px;"></div>
<div class="t" style="left:729.92px;top:653.37px;font-size:9.37px;font-weight:500;color:#111928;">/blog/</div>
<div class="t" style="left:975.77px;top:653.37px;font-size:9.37px;font-weight:500;color:#111928;">376</div>
<div class="t" style="left:1058.37px;top:653.37px;font-size:9.37px;font-weight:500;color:#111928;">139</div>
<div style="position:absolute;left:720.9px;top:676.5px;width:208.0px;height:25px;background:#F3F4F8;border-radius:3.5px;"></div>
<div class="t" style="left:729.92px;top:684.77px;font-size:9.37px;font-weight:500;color:#111928;">/reserve/success</div>
<div class="t" style="left:975.77px;top:684.77px;font-size:9.37px;font-weight:500;color:#111928;">468</div>
<div class="t" style="left:1058.37px;top:684.77px;font-size:9.37px;font-weight:500;color:#111928;">290</div>
<svg style="position:absolute;left:0;top:0" width="1120" height="701"><path d="M1120 679 A22.2 22.2 0 0 1 1100.8 701 L1120 701 Z" fill="#fff"/><path d="M1094 2 A26 26 0 0 1 1120 28" fill="none" stroke="#ECEDF0" stroke-width="0.8"/><path d="M0.5 24 A26 26 0 0 1 15 2.5" fill="none" stroke="#F4F4F6" stroke-width="0.8"/><path d="M0.5 679 A22 22 0 0 0 18 701" fill="none" stroke="#F4F4F6" stroke-width="0.8"/></svg>
</body></html>
